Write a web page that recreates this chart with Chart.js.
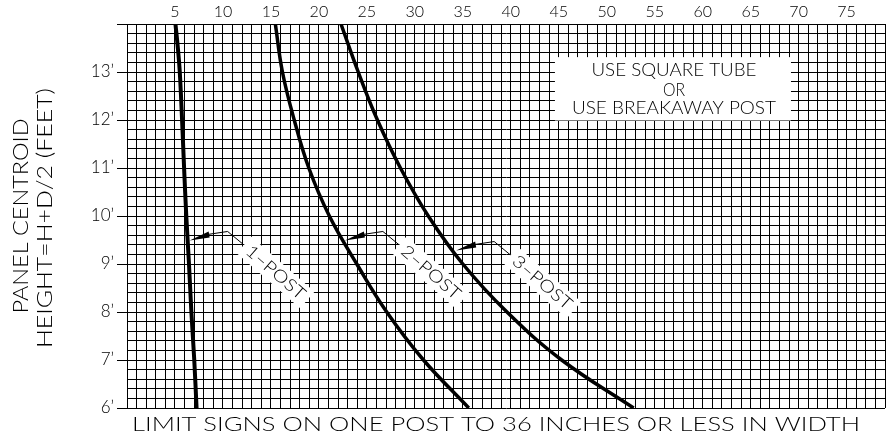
<!DOCTYPE html>
<html>
<head>
<meta charset="utf-8">
<script src="https://cdn.jsdelivr.net/npm/chart.js@4.4.1/dist/chart.umd.min.js"></script>
<style>
  html, body { margin: 0; padding: 0; background: #fff; }
  #wrap { width: 888px; height: 441px; }
</style>
</head>
<body>
<div id="wrap"><canvas id="postChart"></canvas></div>
<script>
// panel centroid height (ft) vs sign area limit, one curve per post count
const post1Height = [14, 13.5, 13, 12, 11, 10, 9, 8, 7, 6];
const post1Width  = [5.05, 5.3, 5.5, 5.74, 5.95, 6.18, 6.46, 6.71, 7.01, 7.25];

const post2Height = [14, 13, 12, 11, 10, 9, 8, 7, 6];
const post2Width  = [15.46, 16.2, 17.43, 18.95, 21.09, 23.95, 27.07, 30.9, 35.62];

const post3Height = [14, 13, 12, 11, 10, 9, 8, 7, 6];
const post3Width  = [22.3, 24.1, 26.1, 28.5, 31.4, 35.0, 39.6, 45.3, 52.8];

const xTickLabels = [5, 10, 15, 20, 25, 30, 35, 40, 45, 50, 55, 60, 65, 70, 75];
const heightLabels = [6, 7, 8, 9, 10, 11, 12, 13];

const FONT = 'Lato';
const WEIGHT = '300';
Chart.defaults.font.family = FONT;
Chart.defaults.font.weight = WEIGHT;
Chart.defaults.color = '#000';

function toPoints(xs, ys) {
  return xs.map((x, i) => ({ x: x, y: ys[i] }));
}

function isWhole(v) {
  return Math.abs(v - Math.round(v)) < 1e-6;
}

// leaders: arrow on the curve, dog-leg line, rotated tag
const leaders = [
  { text: '1–POST', x: 6.32, y: 9.49, dx: 2 },
  { text: '2–POST', x: 22.5, y: 9.49, dx: 2 },
  { text: '3–POST', x: 34.1, y: 9.28, dx: 2 },
];

// draws text squeezed/stretched to a given width
function fitText(ctx, text, cx, cy, width, size, rot) {
  ctx.save();
  ctx.font = WEIGHT + ' ' + size + 'px ' + FONT;
  ctx.textAlign = 'center';
  ctx.textBaseline = 'middle';
  ctx.fillStyle = '#000';
  const w = ctx.measureText(text).width;
  ctx.translate(cx, cy);
  ctx.rotate(rot || 0);
  ctx.scale(width / w, 1);
  ctx.fillText(text, 0, 0);
  ctx.restore();
}

const notes = {
  id: 'notes',
  afterDraw(chart) {
    const ctx = chart.ctx;
    const xs = chart.scales.x, ys = chart.scales.y;

    // square tube / breakaway box
    const bx0 = xs.getPixelForValue(44.6), bx1 = xs.getPixelForValue(69.2);
    const by0 = ys.getPixelForValue(13.31), by1 = ys.getPixelForValue(11.99);
    ctx.save();
    ctx.fillStyle = '#fff';
    ctx.fillRect(bx0, by0, bx1 - bx0, by1 - by0);
    ctx.restore();
    const bc = (bx0 + bx1) / 2 + 1;
    fitText(ctx, 'USE SQUARE TUBE', bc, by0 + 13, 165, 17);
    fitText(ctx, 'OR', bc, by0 + 33, 22, 17);
    fitText(ctx, 'USE BREAKAWAY POST', bc, by0 + 51, 204, 17);

    // leaders
    const ang = 41 * Math.PI / 180;
    leaders.forEach(l => {
      const tx = xs.getPixelForValue(l.x) + l.dx;
      const ty = ys.getPixelForValue(l.y);
      ctx.save();
      ctx.fillStyle = '#000';
      ctx.beginPath();
      ctx.moveTo(tx, ty);
      ctx.lineTo(tx + 19, ty - 9);
      ctx.lineTo(tx + 20, ty - 3);
      ctx.closePath();
      ctx.fill();
      ctx.strokeStyle = '#000';
      ctx.lineWidth = 1;
      ctx.beginPath();
      ctx.moveTo(tx + 18, ty - 6);
      ctx.lineTo(tx + 38, ty - 9);
      ctx.lineTo(tx + 55, ty + 5);
      ctx.stroke();
      // white tag behind the text
      const lx = tx + 86, ly = ty + 32;
      ctx.translate(lx, ly);
      ctx.rotate(ang);
      ctx.fillStyle = '#fff';
      ctx.fillRect(-42, -11, 84, 22);
      ctx.restore();
      fitText(ctx, l.text, lx, ly, 73, 17, ang);
    });

    // axis titles
    fitText(ctx, 'PANEL CENTROID', 21, 216, 195, 21, -Math.PI / 2);
    fitText(ctx, 'HEIGHT=H+D/2 (FEET)', 45, 218, 260, 21, -Math.PI / 2);
    fitText(ctx, 'LIMIT SIGNS ON ONE POST TO 36 INCHES OR LESS IN WIDTH', 496, 425, 728, 20);
  }
};

const curveStyle = {
  showLine: true,
  borderColor: '#000',
  backgroundColor: '#000',
  pointRadius: 0,
  fill: false,
  tension: 0.4,
};

new Chart(document.getElementById('postChart'), {
  type: 'scatter',
  data: {
    datasets: [
      Object.assign({ label: '1-POST', data: toPoints(post1Width, post1Height), borderWidth: 4 }, curveStyle),
      Object.assign({ label: '2-POST', data: toPoints(post2Width, post2Height), borderWidth: 3.5 }, curveStyle),
      Object.assign({ label: '3-POST', data: toPoints(post3Width, post3Height), borderWidth: 3.5 }, curveStyle),
    ],
  },
  options: {
    responsive: true,
    maintainAspectRatio: false,
    animation: false,
    layout: { padding: { left: 0, right: 1, top: 0, bottom: 33 } },
    plugins: {
      legend: { display: false },
      tooltip: { enabled: false },
    },
    scales: {
      x: {
        type: 'linear',
        position: 'top',
        min: 0,
        max: 79,
        afterBuildTicks: (s) => {
          s.ticks = [];
          for (let i = 0; i <= 79; i++) s.ticks.push({ value: i });
        },
        afterFit: (s) => { s.height = 24; },
        ticks: {
          autoSkip: false,
          maxRotation: 0,
          padding: 3,
          font: { size: 16 },
          callback: (v) => xTickLabels.includes(v) ? String(v) : '',
        },
        grid: { color: '#000', lineWidth: 1, drawTicks: false },
        border: { color: '#000', width: 1 },
      },
      y: {
        type: 'linear',
        min: 6,
        max: 14,
        afterBuildTicks: (s) => {
          s.ticks = [];
          for (let i = 0; i <= 40; i++) s.ticks.push({ value: Math.round((6 + i * 0.2) * 10) / 10 });
        },
        afterFit: (s) => { s.width = 127; },
        ticks: {
          autoSkip: false,
          padding: 3,
          font: { size: 17 },
          callback: (v) => (isWhole(v) && heightLabels.includes(Math.round(v))) ? Math.round(v) + '’' : '',
        },
        grid: {
          color: '#000',
          lineWidth: 1,
          tickLength: 10,
          tickColor: (c) => (c.tick && isWhole(c.tick.value)) ? '#000' : 'rgba(0,0,0,0)',
        },
        border: { color: '#000', width: 1 },
      },
    },
  },
  plugins: [notes],
});
</script>
</body>
</html>
